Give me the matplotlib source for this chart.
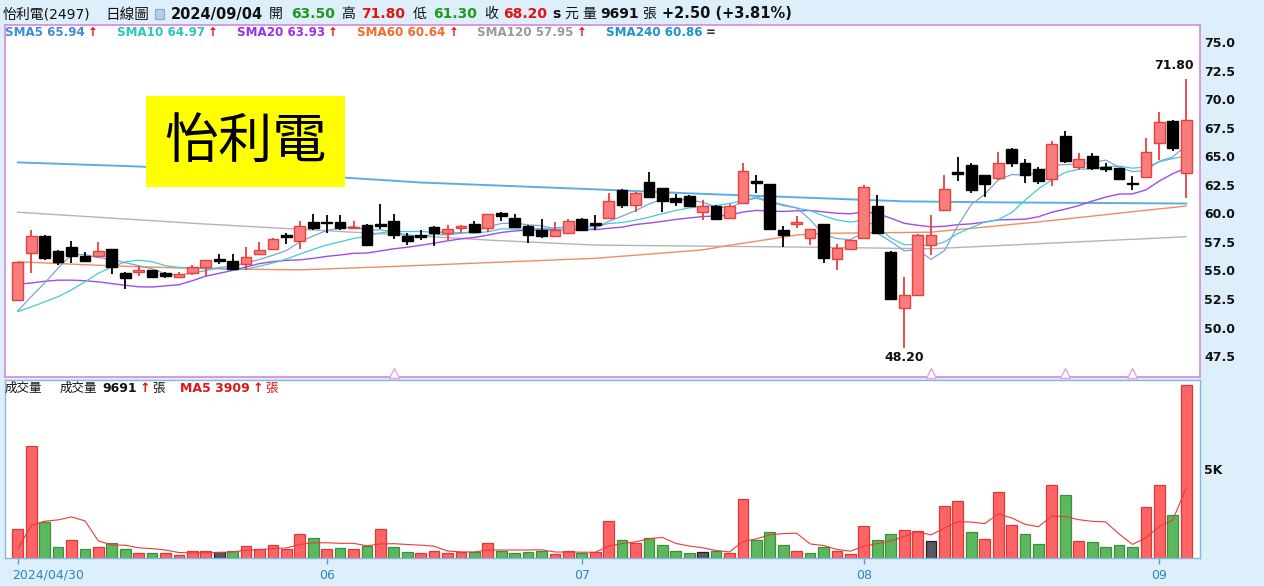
import numpy as np
import pandas as pd
import matplotlib
matplotlib.use("Agg")
import matplotlib.pyplot as plt
from matplotlib.patches import Rectangle

plt.rcParams['font.family'] = ['DejaVu Sans', 'Noto Sans CJK TC']

# daily bars, 2024/04/30 .. 2024/09/04
opens = [52.45, 56.55, 58.0, 56.7, 57.05, 56.3, 56.3, 56.85, 54.8, 54.9,
         55.0, 54.75, 54.45, 54.75, 55.3, 55.95, 55.85, 55.55, 56.4, 56.85,
         58.05, 57.55, 59.2, 59.25, 59.25, 58.75, 59.0, 59.0, 59.35, 58.0,
         58.05, 58.8, 58.25, 58.75, 59.05, 58.75, 60.05, 59.6, 58.9, 58.55,
         58.05, 58.3, 59.5, 59.1, 59.6, 62.05, 60.75, 62.7, 62.2, 61.3,
         61.5, 60.15, 60.6, 59.6, 60.9, 62.75, 62.55, 58.5, 59.15, 57.8,
         59.05, 56.0, 56.85, 57.8, 60.6, 56.65, 51.75, 52.85, 57.2, 60.25,
         63.6, 64.2, 63.35, 63.1, 65.65, 64.4, 63.85, 63.0, 66.75, 64.05,
         65.05, 64.0, 63.95, 62.65, 63.2, 66.2, 68.1, 63.5]
highs = [55.75, 58.5, 58.1, 56.8, 57.55, 56.6, 57.45, 56.9, 54.85, 55.4,
         55.05, 54.85, 54.85, 55.5, 55.95, 56.4, 56.4, 57.05, 57.45, 57.85,
         58.25, 59.35, 59.9, 59.85, 59.85, 59.35, 59.1, 60.8, 59.95, 58.3,
         58.55, 58.85, 58.95, 58.95, 59.35, 59.95, 60.1, 59.9, 59.0, 59.5,
         59.2, 59.5, 59.55, 59.85, 61.75, 62.1, 61.9, 63.6, 62.25, 61.65,
         61.6, 61.15, 60.75, 60.8, 64.45, 63.35, 62.6, 58.9, 59.8, 58.65,
         59.1, 57.35, 57.7, 62.5, 61.6, 56.7, 54.45, 58.15, 59.85, 63.4,
         64.95, 64.4, 63.4, 65.35, 65.7, 64.8, 64.1, 66.35, 67.2, 65.25,
         65.25, 64.4, 64.0, 63.25, 66.6, 68.85, 68.15, 71.8]
lows = [52.3, 54.8, 55.9, 55.5, 55.65, 55.7, 56.25, 54.7, 53.35, 54.5,
        54.3, 54.3, 54.3, 54.6, 54.5, 55.55, 55.05, 55.05, 56.4, 56.85,
        57.3, 56.85, 58.5, 58.25, 58.5, 58.6, 57.2, 58.6, 57.75, 57.2,
        57.65, 57.15, 57.65, 58.3, 58.3, 58.4, 59.35, 58.75, 57.4, 57.8,
        57.9, 58.25, 58.45, 58.55, 59.6, 60.5, 60.15, 61.3, 60.15, 60.6,
        60.6, 59.45, 59.45, 59.6, 60.85, 61.75, 58.6, 57.05, 58.75, 57.2,
        55.65, 55.05, 56.85, 57.8, 58.25, 52.45, 48.2, 52.8, 56.35, 60.2,
        62.85, 61.75, 61.45, 62.9, 64.1, 62.65, 62.55, 62.4, 64.4, 63.8,
        63.8, 63.6, 62.95, 62.0, 63.2, 64.65, 65.5, 61.3]
closes = [55.7, 58.05, 56.1, 55.7, 56.25, 55.85, 56.7, 55.3, 54.3, 54.95,
          54.45, 54.55, 54.65, 55.3, 55.9, 55.9, 55.1, 56.15, 56.75, 57.75,
          57.95, 58.9, 58.75, 59.15, 58.7, 58.8, 57.2, 58.95, 58.1, 57.55,
          58.0, 58.25, 58.6, 58.9, 58.4, 59.9, 59.75, 58.8, 58.1, 58.05,
          58.5, 59.35, 58.55, 59.0, 61.1, 60.75, 61.8, 61.45, 61.1, 60.95,
          60.65, 60.65, 59.5, 60.65, 63.7, 62.7, 58.65, 58.1, 59.2, 58.6,
          56.1, 56.95, 57.65, 62.3, 58.3, 52.5, 52.85, 58.1, 58.1, 62.1,
          63.5, 62.05, 62.55, 64.4, 64.45, 63.35, 62.85, 66.05, 64.6, 64.8,
          63.95, 63.9, 63.0, 62.6, 65.35, 68.0, 65.7, 68.2]
volumes = [1610, 6255, 2000, 600, 1030, 525, 640, 860, 525, 300,
           300, 260, 150, 390, 390, 340, 390, 690, 490, 750,
           490, 1370, 1140, 525, 580, 490, 690, 1650, 600, 355,
           300, 410, 300, 340, 340, 860, 390, 300, 355, 390,
           245, 375, 260, 340, 2060, 1030, 825, 1140, 710, 375,
           300, 340, 375, 300, 3315, 1030, 1480, 710, 410, 300,
           600, 375, 225, 1800, 1030, 1370, 1590, 1520, 955, 2940,
           3165, 1480, 1085, 3670, 1835, 1370, 805, 4065, 3540, 955,
           920, 620, 710, 600, 2830, 4065, 2415, 9691]
# r = up, g = down, k = unchanged (vs previous close)
vol_dir = ("rrggrgrggr" "grrrrkgrrr" "rrgrgrgrgg" "rrrrgrgggg" "rrgrrgrggg"
           "gkgrrgggrg" "grrrggrrkr" "rgrrrggrgr" "ggggrrgr")

# moving-average values before enough bars are on screen
sma5_head = [51.45, 52.7, 53.9, 55.2]
sma10_head = [51.4, 51.8, 52.25, 52.7, 53.3, 54.0, 54.75, 55.3, 55.75]
sma20_head = [53.8, 53.9, 54.05, 54.15, 54.15, 54.1, 54.0, 53.85, 53.7, 53.57,
              53.55, 53.65, 53.75, 54.1, 54.5, 54.75, 55.0, 55.3, 55.6]
vma5_head = [510, 1815, 2060, 2135]

# long averages read at a few bars
sma60_idx = [0, 7, 14, 21, 28, 43, 51, 53, 58, 60, 68, 76, 83, 87]
sma60_val = [55.76, 55.4, 55.15, 55.05, 55.35, 56.06, 56.8, 57.2, 58.1, 58.25, 58.35, 59.25, 60.14, 60.64]
sma120_idx = [0, 14, 28, 35, 43, 58, 68, 78, 87]
sma120_val = [60.1, 59.06, 58.15, 57.66, 57.22, 57.05, 56.9, 57.45, 57.95]
sma240_idx = [0, 9, 24, 30, 43, 50, 58, 66, 73, 87]
sma240_val = [64.46, 64.1, 63.15, 62.7, 62.1, 61.75, 61.4, 61.05, 60.96, 60.86]

event_idx = [28, 68, 78, 83]
month_idx = [0, 23, 42, 63, 85]
month_lbl = ['2024/04/30', '06', '07', '08', '09']
price_ticks = [47.5, 50.0, 52.5, 55.0, 57.5, 60.0, 62.5, 65.0, 67.5, 70.0, 72.5, 75.0]

W, H = 1264, 586
fig = plt.figure(figsize=(W / 100, H / 100), dpi=100)
fig.patch.set_facecolor('#DDEFFB')


def box(x0, y0, x1, y1):
    return [x0 / W, 1 - y1 / H, (x1 - x0) / W, (y1 - y0) / H]


ax = fig.add_axes(box(5, 25, 1200, 377))
axv = fig.add_axes(box(5, 380, 1200, 558))

x = np.arange(len(closes))
o, h, l, c = map(np.array, (opens, highs, lows, closes))
up = c > o
edge = np.where(up, '#E8403A', '#000000')
fill = np.where(up, '#F97D7D', '#000000')
bot = np.minimum(o, c)
hgt = np.abs(c - o)
thin = hgt < 0.14
bot = np.where(thin, (o + c) / 2 - 0.07, bot)
hgt = np.where(thin, 0.14, hgt)

# moving averages
cs = pd.Series(c)


def sma(n, head):
    s = cs.rolling(n).mean().to_numpy()
    s[:len(head)] = head
    return s


ax.plot(sma240_idx, sma240_val, color='#5AAFE0', lw=1.4, zorder=1)
ax.plot(sma120_idx, sma120_val, color='#B4B4B4', lw=1.0, zorder=1)
ax.plot(sma60_idx, sma60_val, color='#F28C60', lw=1.0, zorder=1)
ax.plot(x, sma(20, sma20_head), color='#A04BEA', lw=1.0, zorder=1)
ax.plot(x, sma(10, sma10_head), color='#45CBD3', lw=0.9, zorder=1)
ax.plot(x, sma(5, sma5_head), color='#7BA4D6', lw=0.9, zorder=1)

ax.vlines(x, l, h, colors=edge, lw=1.3, zorder=2)
ax.bar(x, hgt, bottom=bot, width=0.8, color=fill, edgecolor=edge, lw=1.0, zorder=3)

ihi, ilo = int(np.argmax(h)), int(np.argmin(l))
ax.annotate(f'{h[ihi]:.2f}', (ihi, h[ihi]), xytext=(-9, 5), textcoords='offset points',
            ha='center', va='bottom', fontsize=9, fontweight='bold', color='#111111')
ax.annotate(f'{l[ilo]:.2f}', (ilo, l[ilo]), xytext=(0, -2), textcoords='offset points',
            ha='center', va='top', fontsize=9, fontweight='bold', color='#111111')

ax.plot(event_idx, [0.012] * len(event_idx), ls='none', marker='^', ms=7, mfc='white',
        mec='#E3A3E3', transform=ax.get_xaxis_transform(), clip_on=False, zorder=4)

ax.set_xlim(-0.95, 88.03)
ax.set_ylim(45.67, 76.49)
ax.set_xticks([])
ax.yaxis.tick_right()
ax.set_yticks(price_ticks)
ax.set_yticklabels([f'{t:.1f}' for t in price_ticks])
ax.tick_params(axis='y', length=0, pad=3, labelsize=9, labelcolor='#111111')
for t in ax.get_yticklabels():
    t.set_fontweight('bold')
for s in ax.spines.values():
    s.set_color('#DA90DA')
    s.set_linewidth(1.3)

# volume panel
vcol = {'r': '#FF6464', 'g': '#5CB85C', 'k': '#5A5A66'}
vedge = {'r': '#D83A3A', 'g': '#3E8E3E', 'k': '#222222'}
axv.bar(x, volumes, width=0.8, color=[vcol[d] for d in vol_dir],
        edgecolor=[vedge[d] for d in vol_dir], lw=0.9, zorder=2)
vma = pd.Series(volumes, dtype=float).rolling(5).mean().to_numpy()
vma[:len(vma5_head)] = vma5_head
axv.plot(x, vma, color='#F03838', lw=0.8, zorder=3)
axv.set_xlim(-0.95, 88.03)
axv.set_ylim(0, 9970)
axv.yaxis.tick_right()
axv.set_yticks([5000])
axv.set_yticklabels(['5K'])
axv.tick_params(axis='y', length=0, pad=3, labelsize=9, labelcolor='#111111')
for t in axv.get_yticklabels():
    t.set_fontweight('bold')
axv.set_xticks(month_idx)
axv.set_xticklabels([''] + month_lbl[1:])
axv.tick_params(axis='x', length=4, width=1, color='#5A9BD0', pad=4,
                labelsize=9, labelcolor='#2E86C1')
for s in axv.spines.values():
    s.set_color('#86B6E0')
    s.set_linewidth(1.0)
fig.text(12 / W, 1 - 575 / H, month_lbl[0], fontsize=9, color='#2E86C1', va='center')

# texts
r = fig.canvas.get_renderer()


def put(px, py, s, color='#111111', size=10, bold=False):
    t = fig.text(px / W, 1 - py / H, s, color=color, fontsize=size,
                 fontweight='bold' if bold else 'normal', va='center', ha='left')
    return t.get_window_extent(r).x1


green, red = '#1E9A1E', '#E01414'
put(3, 14, '怡利電(2497)', size=10)
put(105, 14, '日線圖', size=10.5)
fig.add_artist(Rectangle((155 / W, 1 - 19 / H), 9 / W, 10 / H, transform=fig.transFigure,
                         facecolor='#B5D0EC', edgecolor='#86A9D2', lw=0.8))
put(171, 14, '2024/09/04', bold=True, size=10.5)
put(269, 14, '開')
put(291, 14, '63.50', green, bold=True)
put(341, 14, '高')
put(361, 14, '71.80', red, bold=True)
put(413, 14, '低')
put(433, 14, '61.30', green, bold=True)
put(484, 14, '收')
end = put(503, 14, '68.20', red, bold=True)
end = put(end + 5, 14, 's', bold=True)
put(end + 4, 14, '元')
put(582, 14, '量')
end = put(600, 14, '9691', bold=True)
put(end + 4, 14, '張')
put(662, 14, '+2.50 (+3.81%)', bold=True, size=10.5)

legend = [(5, 'SMA5 65.94', '#3D8BD9', '↑'), (117, 'SMA10 64.97', '#2BC4C4', '↑'),
          (237, 'SMA20 63.93', '#9B30E8', '↑'), (357, 'SMA60 60.64', '#F26B2A', '↑'),
          (477, 'SMA120 57.95', '#999999', '↑'), (606, 'SMA240 60.86', '#1E90D0', '=')]
for px, s, col, mark in legend:
    end = put(px, 33, s, col, size=8.6, bold=True)
    put(end + 3, 33, mark, red if mark == '↑' else '#333333', size=8.6, bold=True)

put(5, 388, '成交量', size=9)
put(60, 388, '成交量', size=9)
end = put(102, 388, '9691', size=9, bold=True)
end = put(end + 3, 388, '↑', red, size=9, bold=True)
put(end + 2, 388, '張', size=9)
end = put(180, 388, 'MA5 3909', red, size=9, bold=True)
end = put(end + 3, 388, '↑', red, size=9, bold=True)
put(end + 2, 388, '張', red, size=9)

# name tag
fig.add_artist(Rectangle((146 / W, 1 - 187 / H), 199 / W, 91 / H, transform=fig.transFigure,
                         facecolor='#FFFF00', edgecolor='none', zorder=5))
fig.text(245.5 / W, 1 - 142 / H, '怡利電', fontsize=39, color='#000000', ha='center',
         va='center', family=['Noto Sans CJK TC'], zorder=6)

fig.savefig('out.png', dpi=100, facecolor=fig.get_facecolor())
